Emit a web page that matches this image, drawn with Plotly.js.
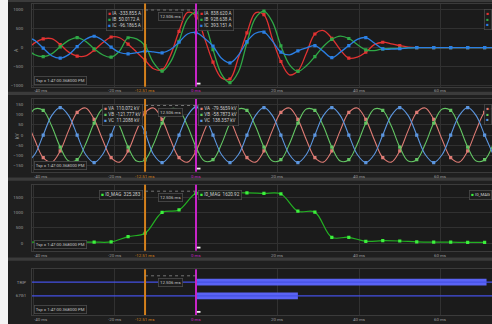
<!DOCTYPE html>
<html>
<head>
<meta charset="utf-8">
<script src="https://cdn.plot.ly/plotly-3.0.1.min.js"></script>
<style>
  html, body { margin: 0; padding: 0; background: #1f1f1f; overflow: hidden; }
  #chart { width: 492px; height: 324px; }
</style>
</head>
<body>
<div id="chart"></div>
<script>
// ---- sample times (ms), fine grid for the analog channels ----
const tFine = [-41.67,-39.58,-37.5,-35.42,-33.33,-31.25,-29.17,-27.08,-25,-22.92,-20.83,-18.75,-16.67,-14.58,-12.5,-10.42,-8.33,-6.25,-4.17,-2.08,0,2.08,4.17,6.25,8.33,10.42,12.5,14.58,16.67,18.75,20.83,22.92,25,27.08,29.17,31.25,33.33,35.42,37.5,39.58,41.67,43.75,45.83,47.92,50,52.08,54.17,56.25,58.33,60.42,62.5,64.58,66.67,68.75,70.83,72.92];
// coarse grid (one value per processing interval) for the magnitude channel
const tCoarse = [-41.67,-37.5,-33.33,-29.17,-25,-20.83,-16.67,-12.5,-8.33,-4.17,0,4.17,8.33,12.5,16.67,20.83,25,29.17,33.33,37.5,41.67,45.83,50,54.17,58.33,62.5,66.67,70.83];

// ---- phase currents (A) ----
const currentA = [-80,125,230,235,80,-120,-225,-220,-70,130,280,260,90,-120,-333.855,-560,-590,-200,431,930,838.62,250,-384,-800,-830,-260,390,920,870,230,-368,-720,-620,-150,360,450,247,-60,-280,-250,-121,80,142,100,50,15,0,0,0,0,0,0,0,0,0,0];
const currentB = [-20,-190,-237,-165,20,190,265,165,-30,-190,-253,-90,260,230,50.0172,-400,-621,-380,168,760,928.638,650,-53,-700,-928,-640,130,780,965,680,45,-450,-631,-480,-237,30,220,305,240,80,-60,-80,-34,-20,-20,-5,0,0,0,0,0,0,0,0,0,0];
const currentC = [285,190,-16,-215,-279,-185,26,220,300,195,10,-130,-166,-135,-96.1865,-115,-139,-50,142,360,393.151,250,37,-280,-402,-200,160,380,410,170,-121,-190,-87,-10,53,-100,-263,-120,53,220,263,120,-34,-40,-30,-10,0,0,0,0,0,0,0,0,0,0];

// ---- phase voltages (kV) ----
const voltA = [77,-23,-111,-133,-78,23,111,133, 77,-23,-111,-133,-78,23,110.072,133, 77,-23,-111,-133,-79.5659,23,111,133, 77,-23,-111,-133,-78,23,111,133, 77,-23,-111,-133,-78,23,111,133, 77,-23,-111,-133,-78,23,111,133, 77,-23,-111,-133,-78,23,111,133];
const voltB = [59,128,121,44,-59,-128,-121,-44, 59,128,121,44,-59,-128,-121.777,-44, 59,128,121,44,-58.7873,-128,-121,-44, 59,128,121,44,-59,-128,-121,-44, 59,128,121,44,-59,-128,-121,-44, 59,128,121,44,-59,-128,-121,-44, 59,128,121,44,-59,-128,-121,-44];
const voltC = [-135,-95.5,0,95.5,135,95.5,0,-95.5, -135,-95.5,0,95.5,135,95.5,11.2088,-95.5, -135,-95.5,0,95.5,138.357,95.5,0,-95.5, -135,-95.5,0,95.5,135,95.5,0,-95.5, -135,-95.5,0,95.5,135,95.5,0,-95.5, -135,-95.5,0,95.5,135,95.5,0,-95.5, -135,-95.5,0,95.5,135,95.5,0,-95.5];

// ---- residual current magnitude ----
const i0Mag = [40,40,40,40,40,45,215,325.283,1000,1080,1620.92,1650,1640,1635,1615,1600,1040,1010,195,195,65,85,75,45,35,35,30,30];

// ---- digital elements: assertion intervals (ms) ----
const digitalNames = ['TRIP', '67G1'];
const digitalOn    = [0, 0];
const digitalOff   = [71.3, 25.0];

// ---- axes / cursors ----
const xTickVals = [-40, -20, 20, 40, 60];
const xTickText = ['-40 ms', '-20 ms', '20 ms', '40 ms', '60 ms'];
const cursorTimes  = [-12.506, 0];
const cursorColors = ['#d4801c', '#c624c6'];
const timestampText = 'Tsp = 1:47:00.368000 PM';

// ---- drawing ----
const W = 492, H = 324;
const px = v => v / W;
const py = v => 1 - v / H;
const FONT = 'Roboto, "Open Sans", sans-serif';
const GRID = '#313131', BORDER = '#3b3b3b', TXT = '#9c9c9c';
const xRange = [-40.25, 72.64];

const panels = [
  {top: 3.5,   bot: 86.7,  range: [-1034, 1166], ticks: [-1000,-500,0,500,1000], labelY: 90.5, grid: true},
  {top: 99,    bot: 171.7, range: [-180, 177],   ticks: [-150,-100,-50,0,50,100,150], labelY: 176, grid: true},
  {top: 184.7, bot: 250.7, range: [-240, 1899],  ticks: [0,500,1000,1500], labelY: 255.6, grid: true},
  {top: 269.3, bot: 315,   range: [-1.41, 1.95], ticks: [1, 0], tickText: digitalNames, labelY: 319.6, grid: false}
];

const phaseCurrents = [
  {name: 'IA', y: currentA, color: '#e23232'},
  {name: 'IB', y: currentB, color: '#2fa846'},
  {name: 'IC', y: currentC, color: '#2b7fe3'}
];
const phaseVoltages = [
  {name: 'VA', y: voltA, color: '#de7b74'},
  {name: 'VB', y: voltB, color: '#63c463'},
  {name: 'VC', y: voltC, color: '#5c96df'}
];

// markers sit on every processing interval, i.e. every other fine sample
const everyOther = arr => arr.filter((_, i) => i % 2 === 0);

const data = [];
function analogTraces(list, xa, ya, width) {
  list.forEach(s => {
    data.push({
      type: 'scatter', mode: 'lines', x: tFine, y: s.y, xaxis: xa, yaxis: ya,
      line: {color: s.color, width: width, shape: 'spline'}, hoverinfo: 'skip'
    });
    data.push({
      type: 'scatter', mode: 'markers', x: everyOther(tFine), y: everyOther(s.y), xaxis: xa, yaxis: ya,
      marker: {symbol: 'square', size: 3.2, color: s.color, line: {width: 0}}, hoverinfo: 'skip'
    });
  });
}
analogTraces(phaseCurrents, 'x', 'y', 1.3);
analogTraces(phaseVoltages, 'x2', 'y2', 1.1);

data.push({
  type: 'scatter', mode: 'lines+markers', x: tCoarse, y: i0Mag, xaxis: 'x3', yaxis: 'y3',
  line: {color: '#23b023', width: 1.2, shape: 'spline'},
  marker: {symbol: 'square', size: 3.2, color: '#3cf03c', line: {width: 0}}, hoverinfo: 'skip'
});

// digital rows: idle trace across the record, asserted interval as a thick bar
const rowY = [1, 0];
digitalNames.forEach((n, i) => data.push({
  type: 'scatter', mode: 'lines', x: [tFine[0], tFine[tFine.length - 1]], y: [rowY[i], rowY[i]],
  xaxis: 'x4', yaxis: 'y4', line: {color: '#4550e4', width: 1.3}, hoverinfo: 'skip'
}));
data.push({
  type: 'bar', orientation: 'h', y: rowY, base: digitalOn,
  x: digitalOff.map((v, i) => v - digitalOn[i]), width: [0.5, 0.5],
  xaxis: 'x4', yaxis: 'y4', marker: {color: '#5a63f4', line: {width: 0}}, hoverinfo: 'skip'
});

const layout = {
  width: W, height: H, margin: {l: 0, r: 0, t: 0, b: 0},
  paper_bgcolor: '#1f1f1f', plot_bgcolor: '#1b1b1b',
  showlegend: false, hovermode: false,
  font: {family: FONT, color: TXT, size: 5},
  shapes: [], annotations: []
};

const fmt = v => v.toPrecision(6);
const sampleAt = (tArr, yArr, t) => {
  let best = 0;
  tArr.forEach((v, i) => { if (Math.abs(v - t) < Math.abs(tArr[best] - t)) best = i; });
  return yArr[best];
};
const square = c => `<span style="color:${c}">■</span>`;
const legendText = (list, t, unit) => list.map(s =>
  `${square(s.color)} ${s.name}  ${fmt(sampleAt(s.t, s.y, t))}${unit}`).join('<br>');

panels.forEach((p, k) => {
  const n = k === 0 ? '' : String(k + 1);
  const xid = 'x' + n, yid = 'y' + n;
  layout['xaxis' + n] = {
    domain: [px(32), 1], range: xRange, anchor: yid, tickvals: xTickVals, showticklabels: false,
    showgrid: true, gridcolor: GRID, gridwidth: 1, zeroline: false,
    showline: true, linecolor: BORDER, linewidth: 1, mirror: true, ticks: ''
  };
  layout['yaxis' + n] = {
    domain: [py(p.bot), py(p.top)], range: p.range, anchor: xid, tickvals: p.ticks,
    ticktext: p.tickText, showgrid: p.grid, gridcolor: GRID, gridwidth: 1, zeroline: false,
    showline: true, linecolor: BORDER, linewidth: 1, mirror: true, ticks: '',
    tickfont: {size: 4.4, color: TXT, family: FONT}, ticklabelstandoff: p.grid ? 7 : 4
  };

  // x tick labels
  xTickVals.forEach((v, i) => layout.annotations.push({
    xref: xid, yref: 'paper', x: i === 0 ? xRange[0] : v, y: py(p.labelY),
    xanchor: i === 0 ? 'left' : 'center', yanchor: 'middle', showarrow: false,
    text: xTickText[i], font: {size: 4.4, color: TXT, family: FONT}
  }));
  // cursors with their coloured time labels
  cursorTimes.forEach((t, i) => {
    layout.shapes.push({type: 'line', xref: xid, yref: yid + ' domain', x0: t, x1: t, y0: 0, y1: 1,
      line: {color: cursorColors[i], width: 2}});
    layout.annotations.push({xref: xid, yref: 'paper', x: t, y: py(p.labelY), xanchor: 'center',
      yanchor: 'middle', showarrow: false, text: `${Number(t.toFixed(2))} ms`,
      font: {size: 4.4, color: cursorColors[i], family: FONT}});
  });
  // delta between cursors
  layout.shapes.push({type: 'line', xref: xid, yref: 'paper', x0: cursorTimes[0], x1: cursorTimes[1],
    y0: py(p.top + 6.5), y1: py(p.top + 6.5), line: {color: '#8a8a8a', width: 0.8, dash: 'dot'}});
  layout.annotations.push({xref: xid, yref: 'paper', x: (cursorTimes[0] + cursorTimes[1]) / 2,
    y: py(p.top + 8.5), xanchor: 'center', yanchor: 'top', showarrow: false,
    text: `${(cursorTimes[1] - cursorTimes[0]).toFixed(3)} ms`, font: {size: 4.4, color: '#c8c8c8', family: FONT},
    bgcolor: '#1d1d1d', bordercolor: '#4d4d4d', borderwidth: 0.8, borderpad: 1.2});
  // small handle at the foot of the trigger cursor
  layout.shapes.push({type: 'rect', xref: xid, yref: 'paper', x0: cursorTimes[1] + 0.2, x1: cursorTimes[1] + 1.1,
    y0: py(p.bot - 2.2), y1: py(p.bot - 4), fillcolor: '#f0f0f0', line: {width: 0}});
  // timestamp box
  layout.annotations.push({xref: 'paper', yref: 'paper', x: px(33.5), y: py(p.bot - 1.3),
    xanchor: 'left', yanchor: 'bottom', showarrow: false, text: timestampText,
    font: {size: 4.3, color: '#c4c4c4', family: FONT}, bgcolor: '#1c1c1c', bordercolor: '#4d4d4d',
    borderwidth: 0.8, borderpad: 1});
});

// cursor read-outs
function legendBoxes(list, xid, top, unit, edgeX, edgeNames) {
  const common = {yref: 'paper', y: py(top + 5), yanchor: 'top', showarrow: false, align: 'left',
    font: {size: 4.6, color: '#cfcfcf', family: FONT}, bgcolor: 'rgba(29,29,29,0.92)',
    bordercolor: '#4a4a4a', borderwidth: 0.8, borderpad: 1.5};
  layout.annotations.push(Object.assign({}, common, {xref: xid, x: cursorTimes[0], xanchor: 'right', xshift: -2,
    text: legendText(list, cursorTimes[0], unit)}));
  layout.annotations.push(Object.assign({}, common, {xref: xid, x: cursorTimes[1], xanchor: 'left', xshift: 2,
    text: legendText(list, cursorTimes[1], unit)}));
  // read-out of a third cursor sitting at the right edge of the window
  layout.annotations.push(Object.assign({}, common, {xref: 'paper', x: px(edgeX), xanchor: 'left',
    font: {size: 4.3, color: '#cfcfcf', family: FONT},
    text: list.map(s => square(s.color) + (edgeNames ? ' ' + s.name : '')).join('<br>')}));
}
legendBoxes(phaseCurrents.map(s => Object.assign({t: tFine}, s)), 'x', panels[0].top, ' A', 484, false);
legendBoxes(phaseVoltages.map(s => Object.assign({t: tFine}, s)), 'x2', panels[1].top, ' kV', 484, false);
legendBoxes([{name: 'I0_MAG', t: tCoarse, y: i0Mag, color: '#3cf03c'}], 'x3', panels[2].top, '', 468.5, true);

// axis titles
layout.annotations.push({xref: 'paper', yref: 'paper', x: px(11), y: py(46), textangle: -90,
  showarrow: false, text: 'A', font: {size: 5, color: TXT, family: FONT}});
layout.annotations.push({xref: 'paper', yref: 'paper', x: px(12), y: py(136), textangle: -90,
  showarrow: false, text: 'kV', font: {size: 5, color: TXT, family: FONT}});

// panel separators and the light strip at the left edge
[[0, 2], [91.8, 95], [177.6, 180.8], [257.6, 260.8]].forEach(b => layout.shapes.push({
  type: 'rect', xref: 'paper', yref: 'paper', x0: px(8), x1: 1, y0: py(b[1]), y1: py(b[0]),
  fillcolor: '#3b3b3b', line: {width: 0}, layer: 'below'}));
layout.shapes.push({type: 'rect', xref: 'paper', yref: 'paper', x0: 0, x1: px(8), y0: 0, y1: 1,
  fillcolor: '#f4f4f4', line: {width: 0}, layer: 'below'});

Plotly.newPlot('chart', data, layout, {staticPlot: true, displayModeBar: false});
</script>
</body>
</html>
